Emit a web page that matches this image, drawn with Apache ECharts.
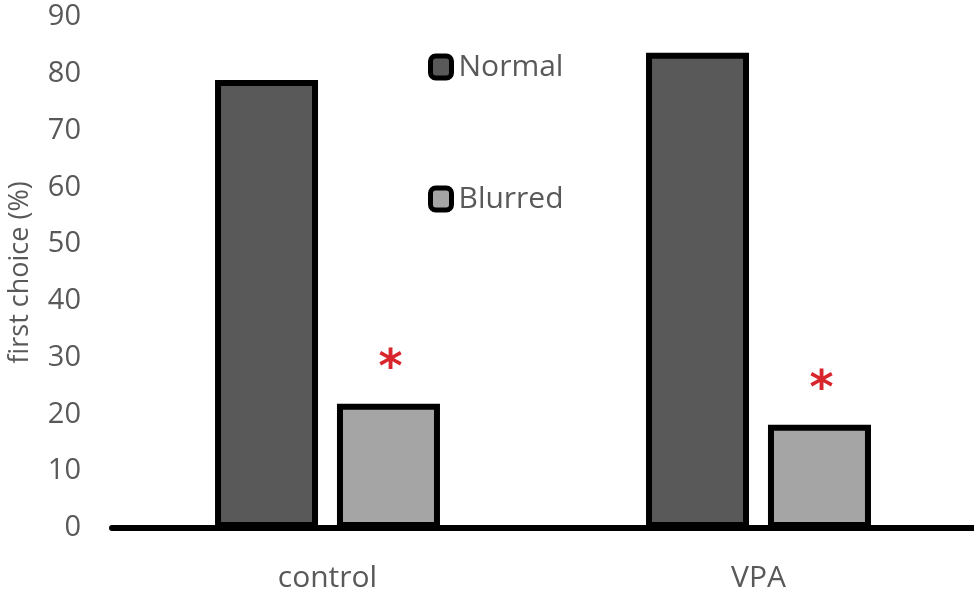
<!DOCTYPE html>
<html>
<head>
<meta charset="utf-8">
<script src="https://cdn.jsdelivr.net/npm/echarts@6/dist/echarts.min.js"></script>
<style>
  html, body { margin: 0; padding: 0; background: #fff; }
  #chart { width: 974px; height: 593px; }
</style>
</head>
<body>
<div id="chart"></div>
<script>
const groups = ["control", "VPA"];
const normalValues = [78.9, 83.7];
const blurredValues = [21.9, 18.2];
const significance = ["*", "*"];
const yTicks = [0, 10, 20, 30, 40, 50, 60, 70, 80, 90];

const font = "'Open Sans', 'Noto Sans', sans-serif";
const textColor = "#595959";

const myChart = echarts.init(document.getElementById("chart"));

const option = {
  backgroundColor: "#fff",
  animation: false,
  grid: { left: 112, right: 0, top: 17, bottom: 65, outerBoundsMode: "none", containLabel: false },
  legend: {
    data: ["Normal", "Blurred"],
    orient: "vertical",
    left: 423,
    top: 47,
    padding: 5,
    itemGap: 102,
    itemWidth: 21,
    itemHeight: 22,
    icon: "roundRect",
    itemStyle: { borderColor: "#000", borderWidth: 5 },
    textStyle: { color: textColor, fontSize: 30, fontFamily: font, padding: [0, 0, 4, 2] },
  },
  xAxis: {
    type: "category",
    data: groups,
    axisLine: { show: true, lineStyle: { color: "#000", width: 6 } },
    axisTick: { show: false },
    axisLabel: { color: textColor, fontSize: 30, fontFamily: font, margin: 35 },
  },
  yAxis: {
    type: "value",
    min: yTicks[0],
    max: yTicks[yTicks.length - 1],
    interval: 10,
    name: "first choice (%)",
    nameLocation: "middle",
    nameGap: 78,
    nameTextStyle: { color: textColor, fontSize: 27, fontFamily: font },
    axisLine: { show: false },
    axisTick: { show: false },
    splitLine: { show: false },
    axisLabel: { color: textColor, fontSize: 29, fontFamily: font, margin: 31 },
  },
  series: [
    {
      name: "Normal",
      type: "bar",
      data: normalValues,
      barWidth: 103,
      barGap: "18.4%",
      itemStyle: { color: "#595959", borderColor: "#000", borderWidth: 6 },
    },
    {
      name: "Blurred",
      type: "bar",
      data: blurredValues,
      barWidth: 103,
      itemStyle: { color: "#a5a5a5", borderColor: "#000", borderWidth: 6 },
      label: {
        show: true,
        position: "top",
        distance: 11,
        offset: [2, 0],
        formatter: (p) => significance[p.dataIndex],
        color: "#d9262c",
        fontSize: 46,
        fontWeight: "bold",
        fontFamily: "'DejaVu Sans', sans-serif",
      },
    },
  ],
};

myChart.setOption(option);
</script>
</body>
</html>
